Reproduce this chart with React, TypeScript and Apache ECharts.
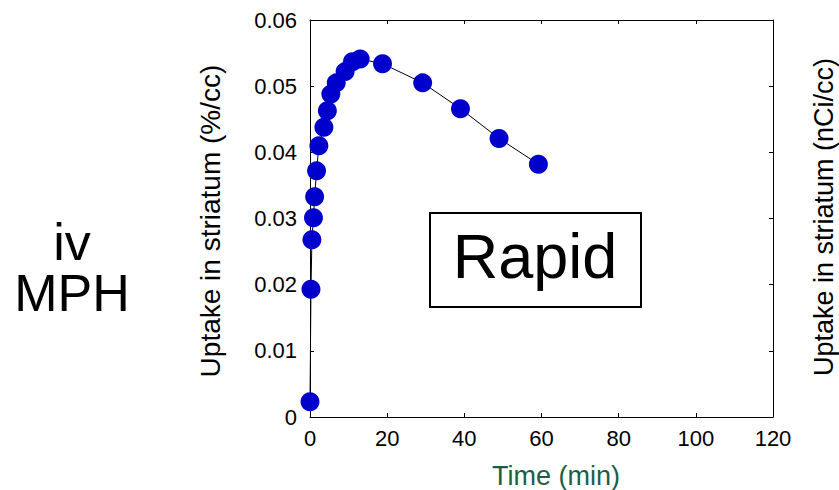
import React, { useEffect, useRef } from "react";
import * as echarts from "echarts";

const times = [0, 0.25, 0.5, 0.9, 1.2, 1.7, 2.3, 3.6, 4.5, 5.4, 6.8, 9.1, 11, 13, 18.8, 29.2, 39, 49, 59.2];
const uptake = [0.0023, 0.0193, 0.0268, 0.0301, 0.0333, 0.0372, 0.041, 0.0438, 0.0463, 0.0488, 0.0505, 0.0522, 0.0537, 0.0541, 0.0534, 0.0505, 0.0466, 0.0421, 0.0382];
const xTicks = [0, 20, 40, 60, 80, 100, 120];
const yTicks = [0, 0.01, 0.02, 0.03, 0.04, 0.05, 0.06];

const FONT = "'Liberation Sans', Arial, sans-serif";

export default function App() {
  const ref = useRef<HTMLDivElement>(null);
  useEffect(() => {
    if (!ref.current) return;
    const chart = echarts.init(ref.current, undefined, { renderer: "svg" });
    const axisLine = { show: true, onZero: false, lineStyle: { color: "#000", width: 1 } };
    const axisTick = { show: true, inside: true, length: 4, lineStyle: { color: "#000", width: 1 } };
    chart.setOption({
      animation: false,
      backgroundColor: "#fff",
      textStyle: { fontFamily: FONT },
      grid: { left: 310, right: 66, top: 20, bottom: 73, containLabel: false },
      xAxis: [
        {
          type: "value",
          position: "bottom",
          min: xTicks[0],
          max: xTicks[xTicks.length - 1],
          interval: 20,
          axisLine,
          axisTick,
          splitLine: { show: false },
          axisLabel: { color: "#000", fontSize: 22, fontFamily: FONT, margin: 10 },
        },
        {
          type: "value",
          position: "top",
          min: xTicks[0],
          max: xTicks[xTicks.length - 1],
          interval: 20,
          axisLine,
          axisTick,
          splitLine: { show: false },
          axisLabel: { show: false },
        },
      ],
      yAxis: [
        {
          type: "value",
          position: "left",
          min: yTicks[0],
          max: yTicks[yTicks.length - 1],
          interval: 0.01,
          axisLine,
          axisTick,
          splitLine: { show: false },
          axisLabel: {
            color: "#000",
            fontSize: 22,
            fontFamily: FONT,
            margin: 13,
            formatter: (v: number) => (v === 0 ? "0" : v.toFixed(2)),
          },
        },
        {
          type: "value",
          position: "right",
          min: yTicks[0],
          max: yTicks[yTicks.length - 1],
          interval: 0.01,
          axisLine,
          axisTick,
          splitLine: { show: false },
          axisLabel: { show: false },
        },
      ],
      series: [
        {
          type: "line",
          data: times.map((t, i) => [t, uptake[i]]),
          symbol: "circle",
          symbolSize: 19,
          lineStyle: { color: "#000", width: 1 },
          itemStyle: { color: "#0000cd" },
          z: 3,
        },
      ],
      graphic: [
        {
          type: "text",
          x: 210,
          y: 221,
          rotation: Math.PI / 2,
          style: {
            text: "Uptake in striatum (%/cc)",
            font: `28px ${FONT}`,
            fill: "#000",
            align: "center",
            verticalAlign: "middle",
          },
        },
        {
          type: "text",
          x: 824,
          y: 217,
          rotation: Math.PI / 2,
          style: {
            text: "Uptake in striatum (nCi/cc)",
            font: `27px ${FONT}`,
            fill: "#000",
            align: "center",
            verticalAlign: "middle",
          },
        },
        {
          type: "text",
          x: 556,
          y: 476,
          style: {
            text: "Time (min)",
            font: `27px ${FONT}`,
            fill: "#1b5e45",
            align: "center",
            verticalAlign: "middle",
          },
        },
        {
          type: "text",
          x: 72,
          y: 242,
          style: {
            text: "iv",
            font: `52px ${FONT}`,
            lineHeight: 44,
            fill: "#000",
            align: "center",
            verticalAlign: "middle",
          },
        },
        {
          type: "text",
          x: 72,
          y: 293,
          style: {
            text: "MPH",
            font: `52px ${FONT}`,
            lineHeight: 44,
            fill: "#000",
            align: "center",
            verticalAlign: "middle",
          },
        },
        {
          type: "rect",
          shape: { x: 430, y: 213, width: 211, height: 94 },
          style: { fill: "#fff", stroke: "#000", lineWidth: 2 },
          z: 10,
        },
        {
          type: "text",
          x: 535,
          y: 256,
          z: 11,
          style: { text: "Rapid", font: `63px ${FONT}`, fill: "#000", align: "center", verticalAlign: "middle" },
        },
      ],
    });
    return () => chart.dispose();
  }, []);
  return (
    <div
      ref={ref}
      style={{ position: "absolute", left: 0, top: 0, width: 839, height: 490 }}
    />
  );
}
